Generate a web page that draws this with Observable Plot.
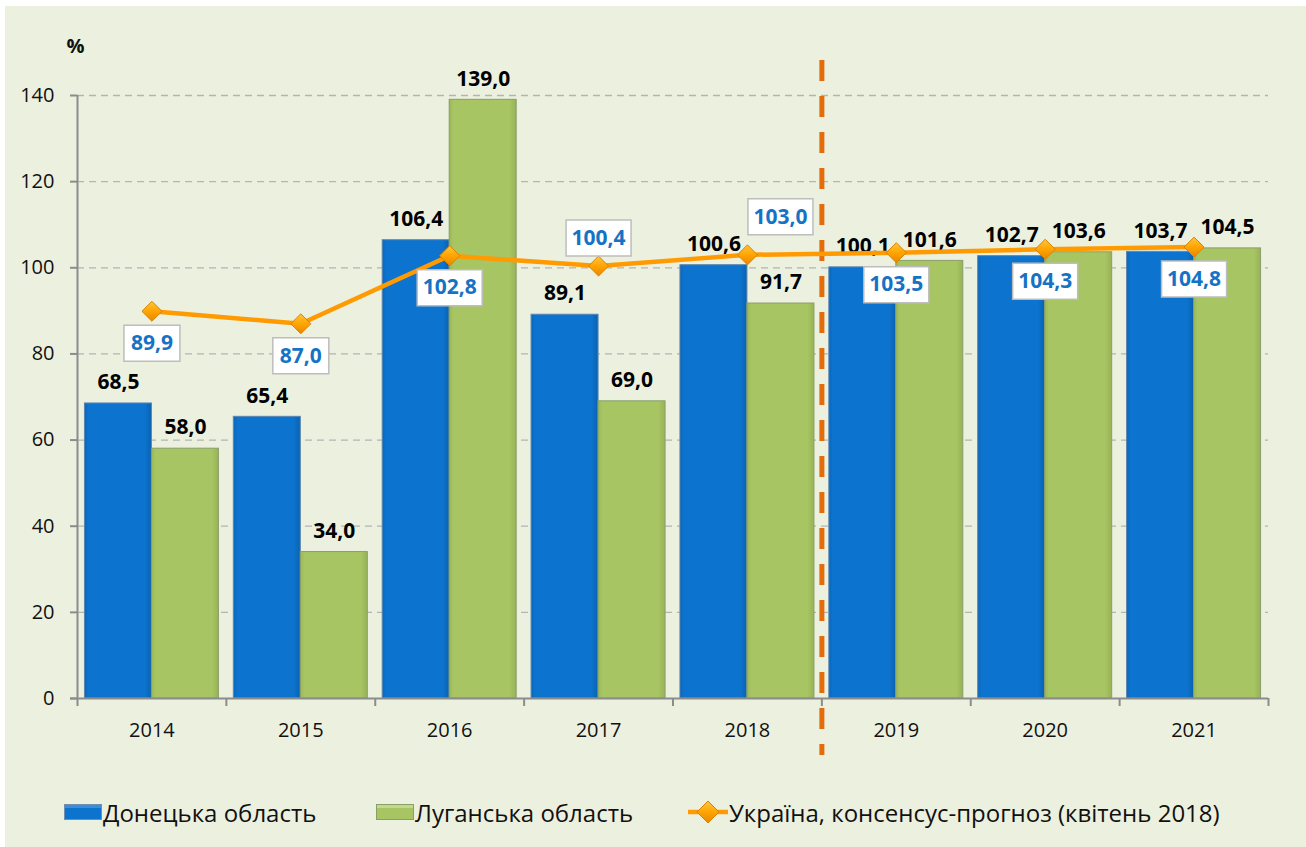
<!DOCTYPE html>
<html>
<head>
<meta charset="utf-8">
<script src="https://cdn.jsdelivr.net/npm/d3@7"></script>
<script src="https://cdn.jsdelivr.net/npm/@observablehq/plot@0.6"></script>
<style>
  html, body { margin: 0; padding: 0; background: #ffffff; }
  #wrap { position: absolute; left: 5px; top: 6px; width: 1301px; height: 841px; background: #ECF0DF; overflow: hidden; font-family: "Open Sans", sans-serif; }
  #chart { position: absolute; left: 0; top: 0; }
  .leg { position: absolute; top: 791px; height: 30px; display: flex; align-items: center; font-size: 24px; color: #111; white-space: nowrap; }
  .leg svg { display: block; margin-right: 1px; }
</style>
</head>
<body>
<div id="wrap">
  <div id="chart"></div>
  <div id="legend"></div>
</div>
<script>
// ---------- data ----------
const years = ["2014", "2015", "2016", "2017", "2018", "2019", "2020", "2021"];
const donetsk = [68.5, 65.4, 106.4, 89.1, 100.6, 100.1, 102.7, 103.7];
const luhansk = [58.0, 34.0, 139.0, 69.0, 91.7, 101.6, 103.6, 104.5];
const ukraine = [89.9, 87.0, 102.8, 100.4, 103.0, 103.5, 104.3, 104.8];
const yTicks = [0, 20, 40, 60, 80, 100, 120, 140];
const gridTicks = [20, 40, 60, 80, 100, 120, 140];
const seriesNames = ["Донецька область", "Луганська область", "Україна, консенсус-прогноз (квітень 2018)"];
const unitLabel = "%";
const forecastStart = "2019";
const ukraineLabelsAbove = ["2017"];
const ukraineLabelsAboveRight = ["2018"];

// ---------- tables ----------
const dData = years.map((year, i) => ({year, value: donetsk[i]}));
const lData = years.map((year, i) => ({year, value: luhansk[i]}));
const uData = years.map((year, i) => ({year, value: ukraine[i]}));
const fmt = v => v.toFixed(1).replace(".", ",");

// ---------- layout ----------
const W = 1301, H = 770;
const mL = 72, mR = 38, mT = 89, mB = 78;
const step = (W - mL - mR) / years.length;
const barW = step * 0.9 / 2;
const font = "Open Sans";
const axisGray = "#8C8C8C";

function rectSymbol(w, h) {
  return { draw(ctx) { ctx.moveTo(-w/2, -h/2); ctx.lineTo(w/2, -h/2); ctx.lineTo(w/2, h/2); ctx.lineTo(-w/2, h/2); ctx.closePath(); } };
}
const box4 = rectSymbol(56, 36);
const box5 = rectSymbol(65, 36);
const uAbove = uData.filter(d => ukraineLabelsAbove.includes(d.year));
const uAboveRight = uData.filter(d => ukraineLabelsAboveRight.includes(d.year));
const uBelow = uData.filter(d => !ukraineLabelsAbove.includes(d.year) && !ukraineLabelsAboveRight.includes(d.year));

const marks = [];
// grid
marks.push(Plot.ruleY(gridTicks, {y: d => d, stroke: "#B4B4B4", strokeWidth: 1.3, strokeDasharray: "7,5"}));
// bars
marks.push(Plot.barY(dData, {x: "year", y: "value", insetRight: barW, fill: "url(#gBlue)", stroke: "#5C86B0", strokeWidth: 1}));
marks.push(Plot.barY(lData, {x: "year", y: "value", insetLeft: barW, fill: "url(#gGreen)", stroke: "#8A9E6A", strokeWidth: 1}));
// axes lines and ticks
marks.push(Plot.ruleY([0], {stroke: axisGray, strokeWidth: 2, insetLeft: -7}));
marks.push(Plot.ruleX([years[0]], {x: d => d, dx: -step / 2, stroke: axisGray, strokeWidth: 2}));
marks.push(Plot.ruleX(years, {x: d => d, dx: -step / 2, y1: 0, y2: 0, insetBottom: -8, stroke: axisGray, strokeWidth: 2}));
marks.push(Plot.ruleX([years[years.length - 1]], {x: d => d, dx: step / 2, y1: 0, y2: 0, insetBottom: -8, stroke: axisGray, strokeWidth: 2}));
marks.push(Plot.axisY({ticks: yTicks, tickSize: 7, tickPadding: 16, stroke: axisGray, strokeWidth: 2, fontSize: 20, fill: "#111", tickFormat: d => d, label: null}));
marks.push(Plot.axisX({tickSize: 0, tickPadding: 24, fontSize: 20, fill: "#111", label: null}));
// forecast divider
marks.push(Plot.ruleX([forecastStart], {x: d => d, dx: -step / 2, stroke: "#E46C0A", strokeWidth: 5, strokeDasharray: "21,15", insetTop: -35, insetBottom: -57}));
// bar labels
marks.push(Plot.text(dData, {x: "year", y: "value", text: d => fmt(d.value), dx: -barW / 2, dy: -21, fontSize: 21, fontWeight: "bold", fill: "#000"}));
marks.push(Plot.text(lData, {x: "year", y: "value", text: d => fmt(d.value), dx: barW / 2, dy: -21, fontSize: 21, fontWeight: "bold", fill: "#000"}));
// Ukraine line
marks.push(Plot.line(uData, {x: "year", y: "value", stroke: "#FF9A00", strokeWidth: 4.5}));
marks.push(Plot.dot(uData, {x: "year", y: "value", symbol: "diamond2", r: 9, fill: "url(#gOrange)", stroke: "#D98200", strokeWidth: 1}));
// Ukraine label boxes
for (const [subset, ox, oy] of [[uAbove, 0, -28], [uAboveRight, 33, -38], [uBelow, 0, 32]]) {
  marks.push(Plot.dot(subset.filter(d => fmt(d.value).length <= 4), {x: "year", y: "value", dx: ox, dy: oy, symbol: box4, r: 10, fill: "#FFFFFF", stroke: "#BDBDBD", strokeWidth: 1.5}));
  marks.push(Plot.dot(subset.filter(d => fmt(d.value).length > 4), {x: "year", y: "value", dx: ox, dy: oy, symbol: box5, r: 10, fill: "#FFFFFF", stroke: "#BDBDBD", strokeWidth: 1.5}));
  marks.push(Plot.text(subset, {x: "year", y: "value", dx: ox, dy: oy, text: d => fmt(d.value), fontSize: 21, fontWeight: "bold", fill: "#1672C4"}));
}
// unit label
marks.push(Plot.text([unitLabel], {frameAnchor: "top-left", dx: -11, dy: -57, fontSize: 20, fontWeight: "bold", fill: "#111"}));

const chart = Plot.plot({
  width: W, height: H,
  marginLeft: mL, marginRight: mR, marginTop: mT, marginBottom: mB,
  style: {fontFamily: font, background: "transparent", overflow: "visible"},
  x: {domain: years, paddingInner: 0.1, paddingOuter: 0.05, round: false, axis: null},
  y: {domain: [0, 140], axis: null},
  marks
});

// gradients
const defs = d3.select(chart).insert("defs", ":first-child");
function grad(id, stops, vertical) {
  const g = defs.append("linearGradient").attr("id", id).attr("x1", 0).attr("y1", 0).attr("x2", vertical ? 0 : 1).attr("y2", vertical ? 1 : 0);
  stops.forEach(([o, c]) => g.append("stop").attr("offset", o).attr("stop-color", c));
}
grad("gBlue", [[0, "#0A66BA"], [0.06, "#0C74CF"], [0.9, "#0C74CF"], [1, "#0A62B0"]], false);
grad("gGreen", [[0, "#98B758"], [0.06, "#A8C563"], [0.9, "#A8C563"], [1, "#97B356"]], false);
grad("gOrange", [[0, "#FFC640"], [0.5, "#FFA500"], [1, "#E88600"]], true);

document.getElementById("chart").appendChild(chart);

// legend
const legend = document.getElementById("legend");
const swatch = (fillTop, fill, stroke) => `<svg width="38" height="16"><rect x="0.5" y="0.5" width="37" height="15" fill="${fill}" stroke="${stroke}"/><rect x="1" y="1" width="36" height="3" fill="${fillTop}"/></svg>`;
const diamondSw = `<svg width="40" height="26"><line x1="0" y1="13" x2="40" y2="13" stroke="#FF9A00" stroke-width="4.5"/><path d="M20,2 L31,13 L20,24 L9,13 Z" fill="url(#gOrange2)" stroke="#D98200"/><defs><linearGradient id="gOrange2" x1="0" y1="0" x2="0" y2="1"><stop offset="0" stop-color="#FFC640"/><stop offset="0.5" stop-color="#FFA500"/><stop offset="1" stop-color="#E88600"/></linearGradient></defs></svg>`;
const items = [
  {left: 59, html: swatch("#3A8FDA", "#0C74CF", "#6E8FB0") + `<span>${seriesNames[0]}</span>`},
  {left: 371, html: swatch("#C3DA8D", "#A8C563", "#8A9E6A") + `<span>${seriesNames[1]}</span>`},
  {left: 683, html: diamondSw + `<span>${seriesNames[2]}</span>`}
];
for (const it of items) {
  const div = document.createElement("div");
  div.className = "leg";
  div.style.left = it.left + "px";
  div.innerHTML = it.html;
  legend.appendChild(div);
}
</script>
</body>
</html>
